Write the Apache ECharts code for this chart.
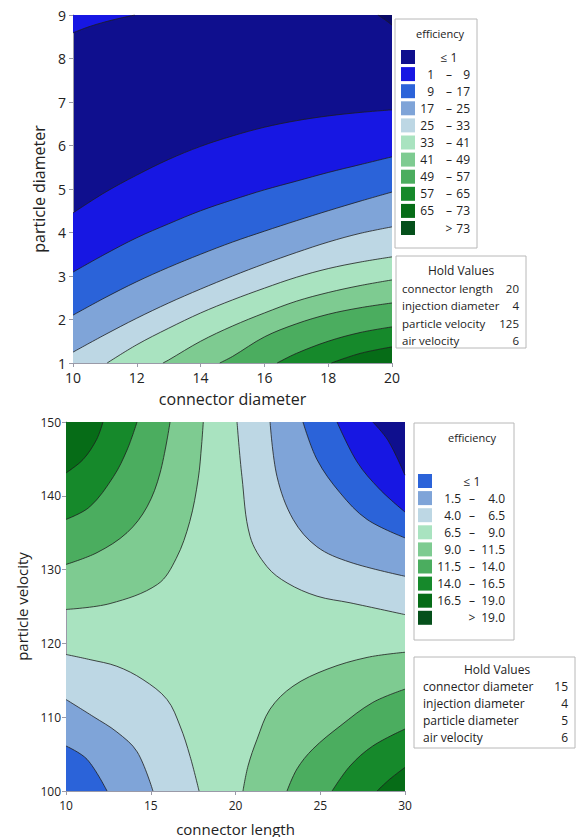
<!DOCTYPE html>
<html>
<head>
<meta charset="utf-8">
<script src="https://cdn.jsdelivr.net/npm/echarts@6/dist/echarts.min.js"></script>
<style>
html, body { margin: 0; padding: 0; background: #fff; }
#chart { width: 581px; height: 837px; }
</style>
</head>
<body>
<div id="chart"></div>
<script>
// ---- top plot: connector diameter vs particle diameter ----
const topLegend = ['≤ 1', '1|9', '9|17', '17|25', '25|33', '33|41', '41|49', '49|57', '57|65', '65|73', '> 73']
const topHold = [['connector length', '20'], ['injection diameter', '4'], ['particle velocity', '125'], ['air velocity', '6']]

// contour lines (x = connector diameter, y = particle diameter)
const topCorner = [[10, 8.59], [10.5, 8.73], [11, 8.84], [11.5, 8.93], [11.94, 9]]
const topCornerR = [[19.56, 9], [19.8, 8.88], [20, 8.77]]
const topC1 = [[10, 4.45], [11, 4.92], [12, 5.32], [13, 5.68], [14, 5.98], [15, 6.22], [16, 6.42], [17, 6.57], [18, 6.68], [19, 6.76], [20, 6.82]]
const topC2 = [[10, 3.09], [11, 3.5], [12, 3.88], [13, 4.2], [14, 4.5], [15, 4.75], [16, 4.98], [17, 5.18], [18, 5.38], [19, 5.56], [20, 5.74]]
const topC3 = [[10, 2.1], [11, 2.5], [12, 2.87], [13, 3.2], [14, 3.5], [15, 3.78], [16, 4.03], [17, 4.27], [18, 4.5], [19, 4.72], [20, 4.93]]
const topC4 = [[10, 1.25], [11, 1.65], [12, 2.03], [13, 2.38], [14, 2.7], [15, 3.0], [16, 3.28], [17, 3.54], [18, 3.78], [19, 3.98], [20, 4.13]]
const topC5 = [[11.07, 1], [12, 1.42], [13, 1.8], [14, 2.15], [15, 2.45], [16, 2.72], [17, 2.97], [18, 3.17], [19, 3.32], [20, 3.44]]
const topC6 = [[12.82, 1], [13, 1.07], [14, 1.5], [15, 1.85], [16, 2.15], [17, 2.42], [18, 2.62], [19, 2.78], [20, 2.91]]
const topC7 = [[14.6, 1], [15, 1.15], [16, 1.6], [17, 1.9], [18, 2.12], [19, 2.27], [20, 2.38]]
const topC8 = [[16.4, 1], [17, 1.22], [18, 1.5], [19, 1.7], [20, 1.83]]
const topC9 = [[18.1, 1], [19, 1.22], [20, 1.37]]

// ---- bottom plot: connector length vs particle velocity ----
const botLegend = ['≤ 1', '1.5|4.0', '4.0|6.5', '6.5|9.0', '9.0|11.5', '11.5|14.0', '14.0|16.5', '16.5|19.0', '> 19.0']
const botHold = [['connector diameter', '15'], ['injection diameter', '4'], ['particle diameter', '5'], ['air velocity', '6']]

// top-left corner (rising toward corner)
const botTL1 = [[10, 124.6], [12.6, 125.4], [15.4, 128], [16.5, 131.5], [17.3, 136.5], [17.8, 142.3], [18.0, 146.9], [18.1, 150]]
const botTL2 = [[10, 130.7], [11.83, 132.3], [13.6, 135.0], [14.78, 138.5], [15.55, 143.1], [16.14, 150]]
const botTL3 = [[10, 136.8], [11.4, 138.5], [12.8, 142.6], [13.6, 146.2], [14.19, 150]]
const botTL4 = [[10, 143.1], [11, 144.9], [11.8, 147.6], [12.18, 150]]
// top-right corner (falling toward corner)
const botTR1 = [[20.09, 150], [20.38, 142.6], [20.86, 134.5], [21.86, 130.4], [23.04, 128.2], [24.81, 126.4], [26.76, 125.5], [30, 123.9]]
const botTR2 = [[22.04, 150], [22.45, 142.6], [23.4, 136.8], [24.8, 133.1], [26.76, 131.0], [30, 129.1]]
const botTR3 = [[23.98, 150], [24.81, 144.9], [26.17, 140.4], [27.76, 136.8], [30, 134.3]]
const botTR4 = [[25.99, 150], [27.17, 144.6], [28.5, 140.9], [30, 137.8]]
const botTR5 = [[28.1, 150], [29.0, 147.5], [30, 142.8]]
// bottom-left corner
const botBL1 = [[10, 118.5], [11.42, 117.8], [13.0, 116.9], [14.54, 115.1], [15.96, 112.4], [16.73, 108.8], [17.32, 104.7], [17.85, 100]]
const botBL2 = [[10, 112.4], [11.6, 110.1], [13.0, 108.0], [14.2, 105.3], [15.13, 100]]
const botBL3 = [[10, 106.1], [11.24, 104.3], [12.42, 100]]
// bottom-right corner
const botBR1 = [[20.44, 100], [20.74, 103.4], [21.27, 107.0], [22.04, 111.1], [23.39, 114.2], [25.4, 116.5], [27.76, 118.1], [30, 118.8]]
const botBR2 = [[23.04, 100], [23.63, 103.0], [24.57, 105.7], [26.17, 108.8], [28.1, 112.0], [30, 113.8]]
const botBR3 = [[25.7, 100], [26.76, 103.4], [28.1, 106.1], [30, 108.4]]
const botBR4 = [[28.35, 100], [29.1, 101.6], [30, 103.2]]

// colours
const topColors = ['#0f0f8e', '#1717e3', '#2b63d9', '#7fa4d8', '#bdd7e4', '#a9e3c0', '#7ecb91', '#4bad5f', '#16892b', '#066c17', '#05501b']
const botColors = ['#2b63d9', '#7fa4d8', '#bdd7e4', '#a9e3c0', '#7ecb91', '#4bad5f', '#16892b', '#066c17', '#05501b']

const FONT = '"Open Sans", "Noto Sans", sans-serif'

function band(gi, pts, color, toTop) {
  return {
    type: 'line',
    xAxisIndex: gi,
    yAxisIndex: gi,
    data: pts,
    symbol: 'none',
    smooth: 0.35,
    silent: true,
    animation: false,
    lineStyle: { color: '#1e1e1e', width: 0.8 },
    areaStyle: { color: color, opacity: 1, origin: toTop ? 'end' : 'start' }
  }
}

const series = [
  band(0, topCorner, topColors[1], true),
  band(0, topCornerR, '#0a0a68', true),
  band(0, topC1, topColors[1]),
  band(0, topC2, topColors[2]),
  band(0, topC3, topColors[3]),
  band(0, topC4, topColors[4]),
  band(0, topC5, topColors[5]),
  band(0, topC6, topColors[6]),
  band(0, topC7, topColors[7]),
  band(0, topC8, topColors[8]),
  band(0, topC9, topColors[9]),

  band(1, botTL1, '#7ecb91', true),
  band(1, botTL2, '#4bad5f', true),
  band(1, botTL3, '#16892b', true),
  band(1, botTL4, '#066c17', true),
  band(1, botTR1, '#bdd7e4', true),
  band(1, botTR2, '#7fa4d8', true),
  band(1, botTR3, '#2b63d9', true),
  band(1, botTR4, '#1717e3', true),
  band(1, botTR5, '#0f0f8e', true),
  band(1, botBL1, '#bdd7e4'),
  band(1, botBL2, '#7fa4d8'),
  band(1, botBL3, '#2b63d9'),
  band(1, botBR1, '#7ecb91'),
  band(1, botBR2, '#4bad5f'),
  band(1, botBR3, '#16892b'),
  band(1, botBR4, '#066c17')
]

// legend + hold values boxes
function legendBox(x, y, w, h, labels, colors, o) {
  const els = [
    { type: 'rect', shape: { x: x, y: y, width: w, height: h }, style: { fill: '#fff', stroke: '#b8b8b8', lineWidth: 1 } },
    { type: 'text', x: o.titleX, y: o.titleY, style: { text: 'efficiency', font: '11px ' + FONT, fill: '#222', align: 'center', verticalAlign: 'middle' } }
  ]
  labels.forEach((lab, i) => {
    const cy = o.firstY + i * o.step
    els.push({ type: 'rect', shape: { x: o.swX, y: cy - 7, width: 14, height: 14 }, style: { fill: colors[i] } })
    const font = o.fontSize + 'px ' + FONT
    const parts = lab.split('|')
    if (parts.length === 2) {
      els.push({ type: 'text', x: o.leftR, y: cy, style: { text: parts[0], font: font, fill: '#222', align: 'right', verticalAlign: 'middle' } })
      els.push({ type: 'text', x: o.dashX, y: cy, style: { text: '–', font: font, fill: '#222', align: 'center', verticalAlign: 'middle' } })
      els.push({ type: 'text', x: o.rightR, y: cy, style: { text: parts[1], font: font, fill: '#222', align: 'right', verticalAlign: 'middle' } })
    } else if (lab[0] === '>') {
      els.push({ type: 'text', x: o.dashX, y: cy, style: { text: '>', font: font, fill: '#222', align: 'center', verticalAlign: 'middle' } })
      els.push({ type: 'text', x: o.rightR, y: cy, style: { text: lab.slice(2), font: font, fill: '#222', align: 'right', verticalAlign: 'middle' } })
    } else {
      els.push({ type: 'text', x: o.dashX, y: cy, style: { text: lab, font: font, fill: '#222', align: 'center', verticalAlign: 'middle' } })
    }
  })
  return els
}

function holdBox(x, y, w, h, rows, o) {
  const font = o.fontSize + 'px ' + FONT
  const els = [
    { type: 'rect', shape: { x: x, y: y, width: w, height: h }, style: { fill: '#fff', stroke: '#b8b8b8', lineWidth: 1 } },
    { type: 'text', x: o.titleX, y: o.titleY, style: { text: 'Hold Values', font: '12px ' + FONT, fill: '#222', align: 'center', verticalAlign: 'middle' } }
  ]
  rows.forEach((r, i) => {
    const cy = o.firstY + i * o.step
    els.push({ type: 'text', x: o.nameX, y: cy, style: { text: r[0], font: font, fill: '#222', align: 'left', verticalAlign: 'middle' } })
    els.push({ type: 'text', x: o.valR, y: cy, style: { text: r[1], font: font, fill: '#222', align: 'right', verticalAlign: 'middle' } })
  })
  return els
}

const graphics = [].concat(
  legendBox(395, 19, 82, 229, topLegend, topColors, {
    titleX: 440, titleY: 33, firstY: 57, step: 17.1, swX: 401,
    leftR: 434, dashX: 449, rightR: 470, fontSize: 12
  }),
  holdBox(396, 256, 130, 92, topHold, { titleX: 461, titleY: 270, firstY: 288, step: 17.5, nameX: 402, valR: 519, fontSize: 11.5 }),
  legendBox(414, 423, 100, 217, botLegend, botColors, {
    titleX: 472, titleY: 437, firstY: 481, step: 17.1, swX: 418,
    leftR: 461, dashX: 472, rightR: 505, fontSize: 12
  }),
  holdBox(414, 657, 161, 91, botHold, { titleX: 497, titleY: 669, firstY: 686, step: 17.3, nameX: 423, valR: 568, fontSize: 12 })
)

const axisLineStyle = { lineStyle: { color: '#9a9aa8', width: 1 } }

const chart = echarts.init(document.getElementById('chart'), null, { renderer: 'svg' })
chart.setOption({
  animation: false,
  backgroundColor: '#fff',
  grid: [
    { left: 73, top: 15, width: 319, height: 348, show: true, backgroundColor: topColors[0], borderWidth: 0 },
    { left: 66, top: 422, width: 339, height: 370, show: true, backgroundColor: '#a9e3c0', borderWidth: 0 }
  ],
  xAxis: [
    {
      gridIndex: 0, type: 'value', min: 10, max: 20, interval: 2,
      name: 'connector diameter', nameLocation: 'middle', nameGap: 28,
      nameTextStyle: { fontSize: 16, fontFamily: FONT, color: '#222' },
      axisLine: axisLineStyle, axisTick: { show: true, length: 4, lineStyle: { color: '#9a9aa8' } },
      axisLabel: { fontSize: 14, fontFamily: FONT, color: '#222', margin: 7 },
      splitLine: { show: false }
    },
    {
      gridIndex: 1, type: 'value', min: 10, max: 30, interval: 5,
      name: 'connector length', nameLocation: 'middle', nameGap: 30,
      nameTextStyle: { fontSize: 15, fontFamily: FONT, color: '#222' },
      axisLine: axisLineStyle, axisTick: { show: true, length: 4, lineStyle: { color: '#9a9aa8' } },
      axisLabel: { fontSize: 12, fontFamily: FONT, color: '#222', margin: 8 },
      splitLine: { show: false }
    }
  ],
  yAxis: [
    {
      gridIndex: 0, type: 'value', min: 1, max: 9, interval: 1,
      name: 'particle diameter', nameLocation: 'middle', nameGap: 24,
      nameTextStyle: { fontSize: 16, fontFamily: FONT, color: '#222' },
      axisLine: axisLineStyle, axisTick: { show: true, length: 4, lineStyle: { color: '#9a9aa8' } },
      axisLabel: { fontSize: 14, fontFamily: FONT, color: '#222', margin: 7 },
      splitLine: { show: false }
    },
    {
      gridIndex: 1, type: 'value', min: 100, max: 150, interval: 10,
      name: 'particle velocity', nameLocation: 'middle', nameGap: 36,
      nameTextStyle: { fontSize: 15, fontFamily: FONT, color: '#222' },
      axisLine: axisLineStyle, axisTick: { show: true, length: 4, lineStyle: { color: '#9a9aa8' } },
      axisLabel: { fontSize: 12, fontFamily: FONT, color: '#222', margin: 5 },
      splitLine: { show: false }
    }
  ],
  series: series,
  graphic: graphics
})
</script>
</body>
</html>
